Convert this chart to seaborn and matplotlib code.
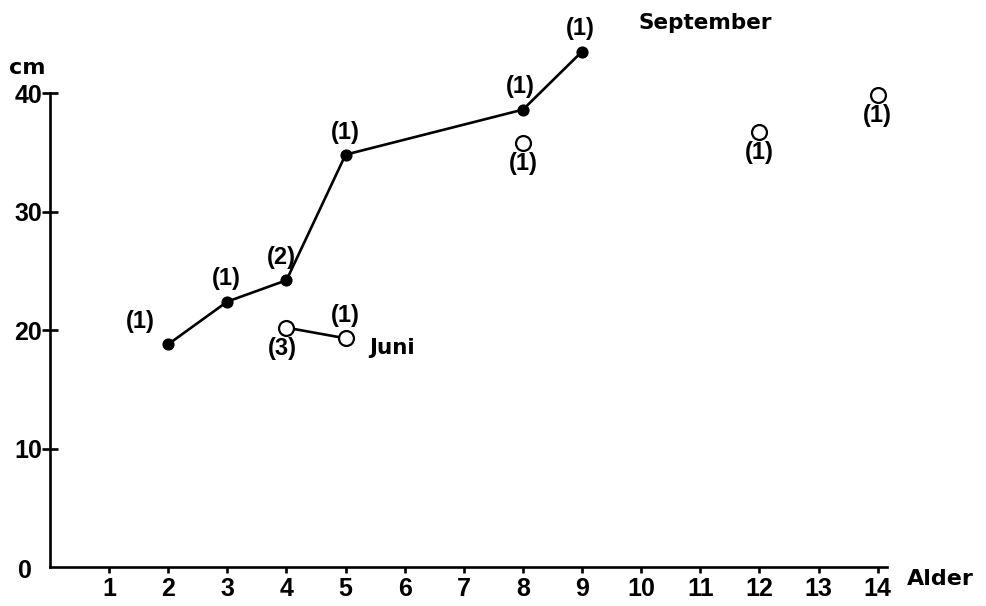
import matplotlib
matplotlib.use("Agg")
import matplotlib.pyplot as plt
import seaborn as sns
import pandas as pd

# values
sep_age = [2, 3, 4, 5, 8, 9]
sep_len = [18.8, 22.4, 24.2, 34.8, 38.6, 43.5]
sep_n = [1, 1, 2, 1, 1, 1]

jun_age = [4, 5]
jun_len = [20.2, 19.3]
jun_n = [3, 1]

single_age = [8, 12, 14]
single_len = [35.8, 36.7, 39.8]
single_n = [1, 1, 1]

x_ticks = list(range(1, 15))
y_ticks = [10, 20, 30, 40]

sns.set_style("white")
plt.rcParams["font.family"] = ["Liberation Sans", "DejaVu Sans"]
plt.rcParams["font.weight"] = "bold"
plt.rcParams["text.color"] = "black"

sep = pd.DataFrame({"age": sep_age, "len": sep_len})
jun = pd.DataFrame({"age": jun_age, "len": jun_len})
single = pd.DataFrame({"age": single_age, "len": single_len})

fig = plt.figure(figsize=(9.87, 6.06), dpi=100)
ax = fig.add_axes([0, 0, 1, 1])

sns.lineplot(data=sep, x="age", y="len", ax=ax, color="black", lw=1.9,
             marker="o", markersize=8, markerfacecolor="black", markeredgecolor="black")
sns.lineplot(data=jun, x="age", y="len", ax=ax, color="black", lw=1.9, zorder=2)
sns.scatterplot(data=jun, x="age", y="len", ax=ax, s=115, facecolor="white",
                edgecolor="black", linewidth=1.6, zorder=3)
sns.scatterplot(data=single, x="age", y="len", ax=ax, s=115, facecolor="white",
                edgecolor="black", linewidth=1.6, zorder=3)

fs = 17
# labels above the September points (first one sits a bit left)
sep_off = [(-20, 8), (-1, 8), (-4, 8), (0, 8), (-2, 8), (-1, 8)]
for x, y, n, off in zip(sep_age, sep_len, sep_n, sep_off):
    ax.annotate(f"({n})", (x, y), xytext=off, textcoords="offset points",
                ha="center", va="bottom", fontsize=fs, fontweight="bold", color="black")
jun_off = [(-3, -7), (0, 8)]
jun_va = ["top", "bottom"]
for x, y, n, off, va in zip(jun_age, jun_len, jun_n, jun_off, jun_va):
    ax.annotate(f"({n})", (x, y), xytext=off, textcoords="offset points",
                ha="center", va=va, fontsize=fs, fontweight="bold", color="black")
for x, y, n in zip(single_age, single_len, single_n):
    ax.annotate(f"({n})", (x, y), xytext=(0, -6.5), textcoords="offset points",
                ha="center", va="top", fontsize=fs, fontweight="bold", color="black")

ax.set_xlim(-0.846, 15.85)
ax.set_ylim(-3.29, 47.85)

for s in ["top", "right"]:
    ax.spines[s].set_visible(False)
ax.spines["left"].set_position(("data", 0))
ax.spines["bottom"].set_position(("data", 0))
ax.spines["left"].set_bounds(0, 40)
ax.spines["bottom"].set_bounds(0, 14.15)
for s in ["left", "bottom"]:
    ax.spines[s].set_color("black")
    ax.spines[s].set_linewidth(1.9)

ax.set_yticks(y_ticks)
ax.set_yticklabels([str(v) for v in y_ticks])
ax.set_xticks(x_ticks)
ax.set_xticklabels([str(v) for v in x_ticks])
ax.tick_params(axis="y", direction="inout", length=11, width=1.9, pad=0,
               labelsize=18, colors="black", left=True)
ax.tick_params(axis="x", direction="out", length=4, width=1.9, pad=3,
               labelsize=18, colors="black", bottom=True)
for lab in ax.get_xticklabels() + ax.get_yticklabels():
    lab.set_fontweight("bold")

ax.set_xlabel("")
ax.set_ylabel("")
wide = "DejaVu Sans"
ax.text(-0.42, -0.3, "0", ha="center", va="center", fontsize=18, fontweight="bold")
ax.text(-0.38, 42.1, "cm", ha="center", va="center", fontsize=16, fontweight="bold", family=wide)
ax.text(14.5, -1.0, "Alder", ha="left", va="center", fontsize=16, fontweight="bold", family=wide)
ax.text(9.95, 45.9, "September", ha="left", va="center", fontsize=15.5, fontweight="bold",
        family=wide)
ax.text(5.4, 18.5, "Juni", ha="left", va="center", fontsize=15.5, fontweight="bold", family=wide)

fig.savefig("out.png", dpi=100)
